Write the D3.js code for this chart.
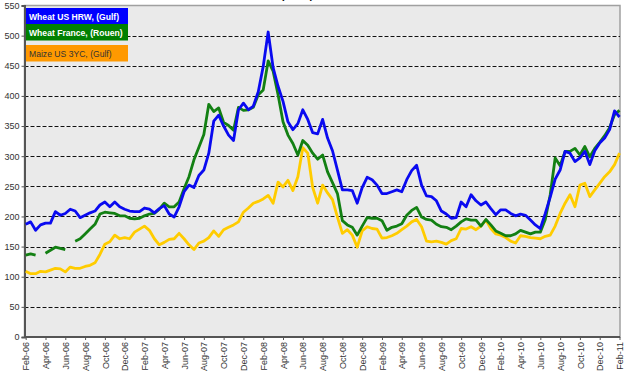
<!DOCTYPE html>
<html>
<head>
<meta charset="utf-8">
<style>
body { margin: 0; background: #fff; }
svg { display: block; font-family: Arial, "Liberation Sans", sans-serif; }
</style>
</head>
<body>
<svg width="630" height="377"></svg>
<script src="https://d3js.org/d3.v7.min.js"></script>
<script>
// half-month steps from Feb-06 to Feb-11 (index / 2 = months since Feb-06)
var tickLabels = ["Feb-06","Apr-06","Jun-06","Aug-06","Oct-06","Dec-06",
  "Feb-07","Apr-07","Jun-07","Aug-07","Oct-07","Dec-07",
  "Feb-08","Apr-08","Jun-08","Aug-08","Oct-08","Dec-08",
  "Feb-09","Apr-09","Jun-09","Aug-09","Oct-09","Dec-09",
  "Feb-10","Apr-10","Jun-10","Aug-10","Oct-10","Dec-10","Feb-11"];

var seriesNames = ["Wheat US HRW, (Gulf)", "Wheat France, (Rouen)", "Maize US 3YC, (Gulf)"];

var wheatUS = [187,191,177,186,189,189,208,202,205,212,209,198,202,206,209,219,224,216,224,216,
  212,209,208,208,214,212,206,213,218,204,199,216,241,252,248,268,277,305,358,368,
  350,335,326,377,388,377,383,407,449,506,447,416,391,357,344,354,377,361,339,
  337,361,330,309,277,244,244,243,222,248,265,261,252,238,238,241,244,241,261,
  276,285,252,234,233,226,209,204,197,198,224,216,236,226,219,224,213,203,211,
  211,205,201,204,202,194,186,180,205,232,262,277,308,305,291,297,308,286,309,322,330,344,375,365];

var wheatFrance = [136,138,136,null,139,144,149,147,145,null,159,163,171,179,187,204,207,206,205,201,
  201,197,196,197,201,204,205,212,222,216,216,224,246,266,294,315,336,386,374,380,
  356,351,343,381,376,377,381,402,410,458,441,402,357,335,321,302,326,318,305,
  295,302,274,256,238,193,186,182,169,184,198,197,197,193,177,182,184,188,202,
  210,215,199,195,194,187,183,182,178,184,191,196,194,194,184,195,186,176,172,
  168,168,171,177,174,171,174,174,195,236,297,284,308,308,313,302,316,299,313,323,334,347,369,376];

var maizeUS = [109,105,105,109,108,111,114,113,108,116,114,114,117,119,123,137,154,158,169,163,
  165,163,174,179,184,177,163,153,157,162,163,172,163,153,145,156,159,165,176,167,
  178,182,186,191,207,214,222,225,229,235,222,257,249,260,243,266,314,305,248,
  222,252,239,228,199,172,178,169,149,176,183,180,179,164,165,168,172,178,184,
  191,195,183,159,158,159,157,154,160,163,180,179,183,178,184,194,180,171,169,
  165,159,156,168,167,165,164,163,167,169,184,205,222,236,216,252,255,233,244,255,266,274,286,305];

var svg = d3.select("svg");

var plotLeft = 24.5, plotRight = 620, plotTop = 5.5, plotBottom = 337;

var x = d3.scaleLinear().domain([0, 60]).range([plotLeft + 1.2, plotRight - 0.5]);
var y = d3.scaleLinear().domain([0, 550]).range([plotBottom, plotTop]);

// cut-off title at the very top
svg.append("text")
    .attr("x", 297).attr("y", -1)
    .attr("text-anchor", "middle")
    .attr("font-size", 10).attr("font-weight", "bold")
    .text("(US$/t)");

// plot area
svg.append("rect")
    .attr("x", plotLeft).attr("y", plotTop)
    .attr("width", plotRight - plotLeft).attr("height", plotBottom - plotTop)
    .attr("fill", "#eaeaea")
    .attr("stroke", "#a0a0a0")
    .attr("stroke-width", 1.5);

// gridlines (white under black dashes)
var grid = svg.append("g");
var gridVals = d3.range(50, 550, 50);
grid.selectAll("line.w").data(gridVals).enter().append("line")
    .attr("class", "w")
    .attr("x1", plotLeft).attr("x2", plotRight)
    .attr("y1", function(d) { return Math.round(y(d)) + 0.5; })
    .attr("y2", function(d) { return Math.round(y(d)) + 0.5; })
    .attr("stroke", "#fff").attr("stroke-width", 1);
grid.selectAll("line.k").data(gridVals).enter().append("line")
    .attr("class", "k")
    .attr("x1", plotLeft).attr("x2", plotRight)
    .attr("y1", function(d) { return Math.round(y(d)) + 0.5; })
    .attr("y2", function(d) { return Math.round(y(d)) + 0.5; })
    .attr("stroke", "#111").attr("stroke-width", 1)
    .attr("stroke-dasharray", "4,2");

// y axis
var yAxis = svg.append("g")
    .attr("transform", "translate(" + plotLeft + ",0)")
    .call(d3.axisLeft(y).tickValues(d3.range(0, 551, 50)).tickSize(3).tickPadding(2));
yAxis.select(".domain").attr("stroke", "#555").attr("stroke-width", 2);
yAxis.selectAll(".tick line").attr("stroke", "#555");
yAxis.selectAll("text").attr("font-size", 9).attr("fill", "#333")
    .attr("font-family", "Arial, 'Liberation Sans', sans-serif");

// x axis
var xAxis = svg.append("g")
    .attr("transform", "translate(0," + plotBottom + ")")
    .call(d3.axisBottom(x).tickValues(d3.range(0, 61, 2)).tickSize(3)
      .tickFormat(function(d) { return tickLabels[d / 2]; }));
xAxis.select(".domain").attr("stroke", "#555").attr("stroke-width", 2)
    .attr("d", "M" + plotLeft + ",0H" + plotRight);
xAxis.selectAll(".tick line").attr("stroke", "#555");
xAxis.selectAll("text")
    .attr("font-size", 9).attr("fill", "#333")
    .attr("font-family", "Arial, 'Liberation Sans', sans-serif")
    .attr("text-anchor", "end")
    .attr("transform", "rotate(-90)")
    .attr("x", -5).attr("y", 0).attr("dy", "0.35em");

// lines
var line = d3.line()
    .defined(function(d) { return d != null; })
    .x(function(d, i) { return x(i / 2); })
    .y(function(d) { return y(d); });

var series = [
  { values: maizeUS, color: "#ffcc00" },
  { values: wheatFrance, color: "#138013" },
  { values: wheatUS, color: "#0a0af0" }
];

svg.append("g").selectAll("path").data(series).enter().append("path")
    .attr("d", function(s) { return line(s.values); })
    .attr("fill", "none")
    .attr("stroke", function(s) { return s.color; })
    .attr("stroke-width", 2.8)
    .attr("stroke-linejoin", "round");

// legend
var legend = [
  { name: seriesNames[0], fill: "#0000ff", text: "#fff", bold: true, y: 8 },
  { name: seriesNames[1], fill: "#008000", text: "#fff", bold: true, y: 24 },
  { name: seriesNames[2], fill: "#ff9900", text: "#333", bold: false, y: 45 }
];
var lg = svg.append("g").selectAll("g").data(legend).enter().append("g");
lg.append("rect")
    .attr("x", 26).attr("y", function(d) { return d.y; })
    .attr("width", 102).attr("height", 16.5)
    .attr("fill", function(d) { return d.fill; });
lg.append("text")
    .attr("x", 29).attr("y", function(d) { return d.y + 11.5; })
    .attr("font-size", 8.6)
    .attr("font-weight", function(d) { return d.bold ? "bold" : "normal"; })
    .attr("fill", function(d) { return d.text; })
    .text(function(d) { return d.name; });
</script>
</body>
</html>
